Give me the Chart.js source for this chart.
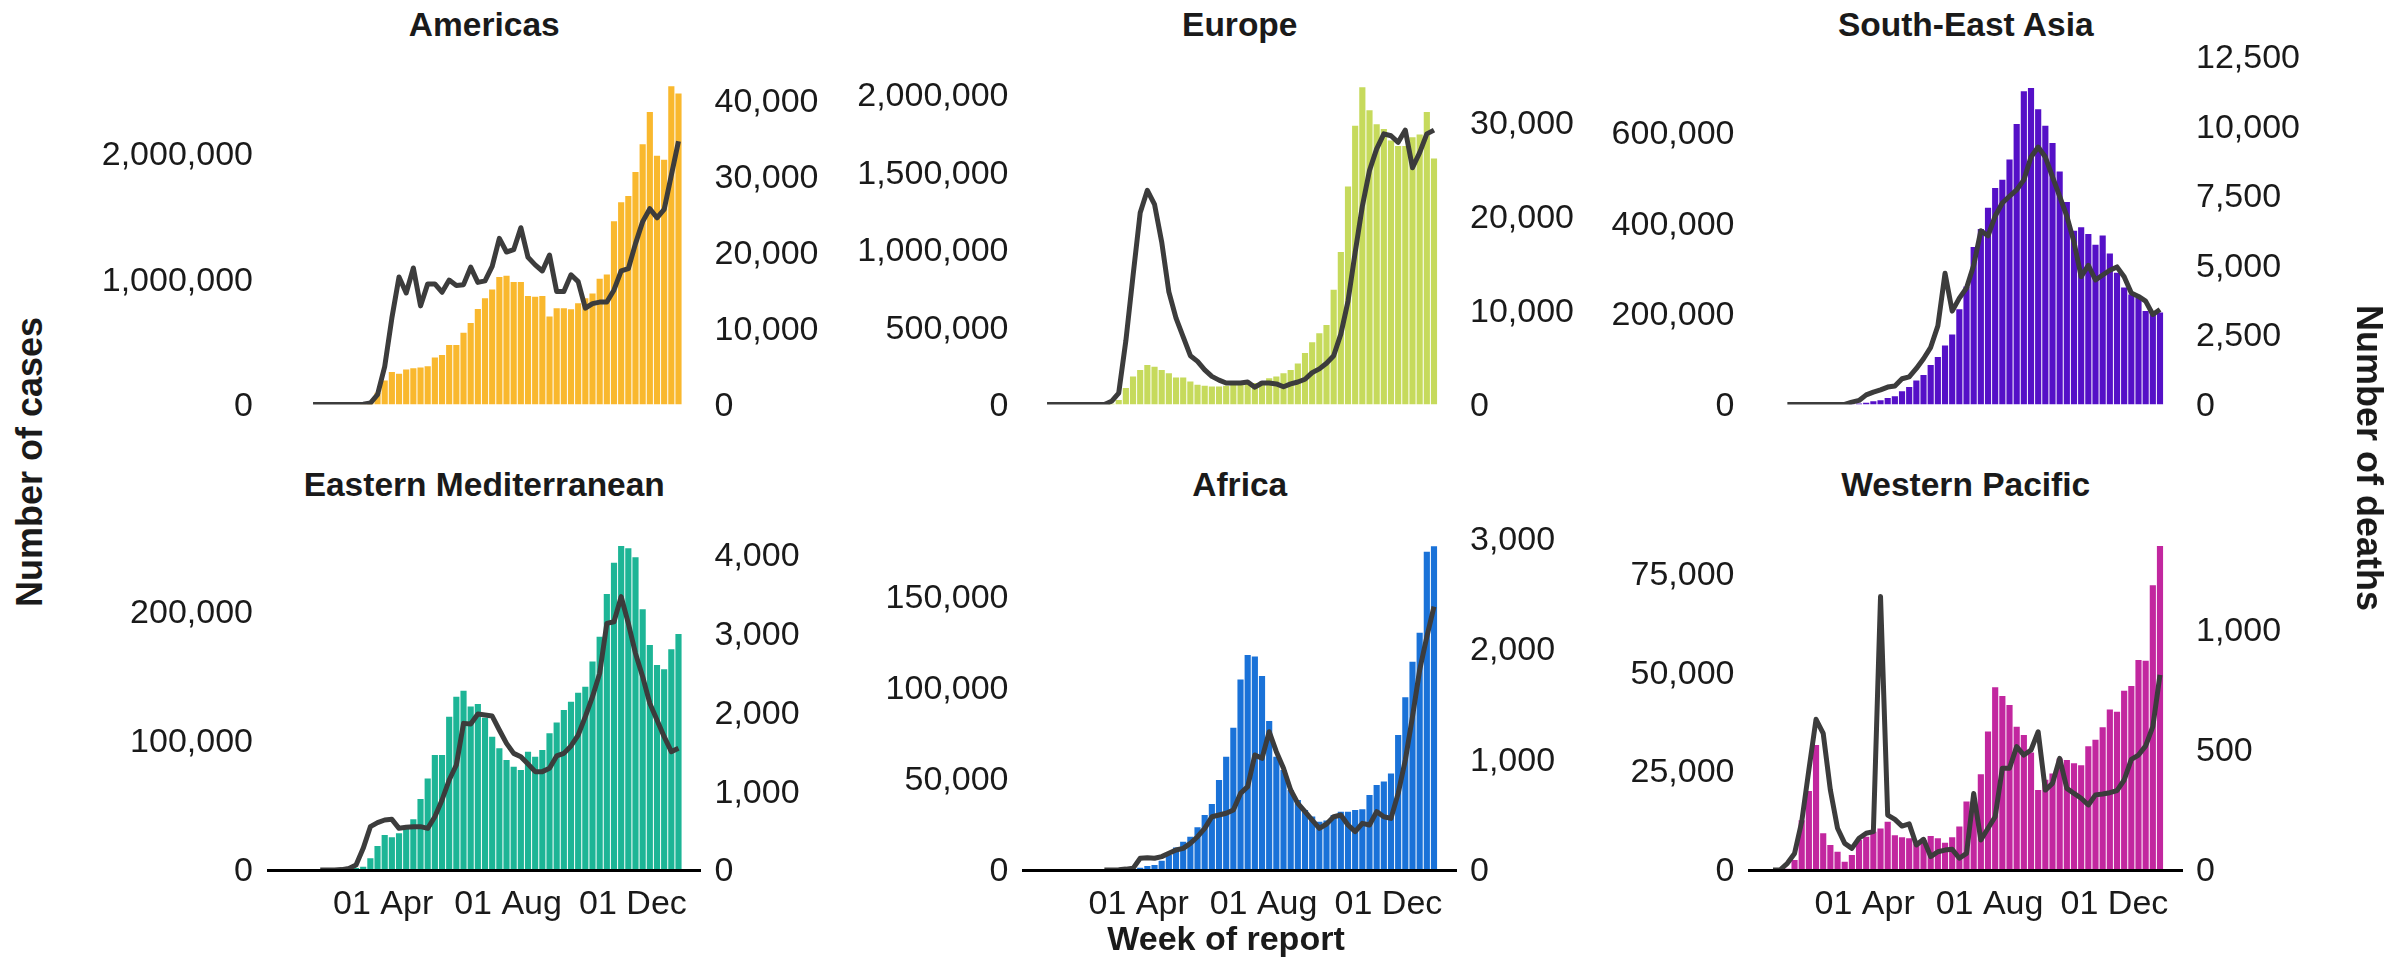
<!DOCTYPE html>
<html>
<head>
<meta charset="utf-8">
<script src="https://cdn.jsdelivr.net/npm/chart.js@4.4.1/dist/chart.umd.min.js"></script>
<style>
  html, body { margin: 0; padding: 0; background: #ffffff; }
  body {
    width: 2405px; height: 960px; position: relative; overflow: hidden;
    font-family: "Liberation Sans", Arial, Helvetica, sans-serif; color: #1a1a1a;
  }
  .title {
    position: absolute; font-weight: bold; font-size: 33.5px; line-height: 1;
    white-space: nowrap; transform: translate(-50%, -50%);
  }
  .axis-title {
    position: absolute; font-weight: bold; font-size: 36px; line-height: 1;
    white-space: nowrap;
  }
  canvas { position: absolute; }
</style>
</head>
<body>
<script>
// Weekly reporting periods (Monday of each week)
const weekStarts = [
  '2019-12-30','2020-01-06','2020-01-13','2020-01-20','2020-01-27','2020-02-03','2020-02-10',
  '2020-02-17','2020-02-24','2020-03-02','2020-03-09','2020-03-16','2020-03-23','2020-03-30',
  '2020-04-06','2020-04-13','2020-04-20','2020-04-27','2020-05-04','2020-05-11','2020-05-18',
  '2020-05-25','2020-06-01','2020-06-08','2020-06-15','2020-06-22','2020-06-29','2020-07-06',
  '2020-07-13','2020-07-20','2020-07-27','2020-08-03','2020-08-10','2020-08-17','2020-08-24',
  '2020-08-31','2020-09-07','2020-09-14','2020-09-21','2020-09-28','2020-10-05','2020-10-12',
  '2020-10-19','2020-10-26','2020-11-02','2020-11-09','2020-11-16','2020-11-23','2020-11-30',
  '2020-12-07','2020-12-14','2020-12-21','2020-12-28','2021-01-04','2021-01-11'
];

// Date axis ticks
const xTickDates  = ['2020-04-01', '2020-08-01', '2020-12-01'];
const xTickLabels = ['01 Apr', '01 Aug', '01 Dec'];

const regionNames = ['Americas', 'Europe', 'South-East Asia',
                     'Eastern Mediterranean', 'Africa', 'Western Pacific'];

// Weekly cases and deaths per region (null = before first report)
const americasCases = [null,null,null,5,3,6,3,2,20,300,3000,20000,95000,193000,259000,246000,280000,290000,295000,306000,376000,395000,476000,476000,573000,651000,763000,847000,918000,1017000,1027000,978000,978000,865000,860000,865000,703000,769000,769000,761000,808000,847000,886000,1004000,1038000,1461000,1613000,1663000,1854000,2076000,2332000,1984000,1953000,2539000,2481000];
const americasDeaths = [null,null,null,0,0,0,0,0,5,20,60,200,1300,5000,11400,16800,14700,18000,13000,15900,15900,14800,16400,15700,15800,18100,16100,16300,18200,21900,20100,20400,23300,19400,18400,17600,19700,14900,14900,17100,16200,12700,13300,13500,13500,15100,17600,17900,21200,24100,25800,24600,25700,30200,34700];

const europeCases = [0,0,0,0,5,10,30,100,1000,5000,30000,107000,181000,223000,255000,244000,223000,202000,175000,175000,149000,128000,122000,117000,117000,122000,139000,128000,139000,139000,149000,170000,181000,202000,223000,266000,333000,403000,460000,513000,742000,985000,1408000,1800000,2048000,1899000,1810000,1778000,1705000,1669000,1669000,1726000,1743000,1889000,1588000];
const europeDeaths = [0,0,0,0,0,0,0,0,10,350,1220,6800,13700,20400,22800,21300,17300,12000,9200,7200,5200,4600,3700,3000,2600,2300,2300,2300,2400,1850,2300,2300,2200,1900,2200,2400,2700,3400,3800,4400,5200,7500,11000,16200,21100,24900,27200,28800,28600,27900,29200,25200,26800,28800,29200];

const seAsiaCases = [null,null,0,1,2,5,8,5,10,30,300,1000,2500,4000,7600,9800,14800,18400,29300,38700,53100,65400,87100,105200,130500,154300,210000,260600,347400,387100,434100,477500,495500,540300,618400,690700,697900,650900,614800,576500,513600,446400,383500,390700,376300,352400,372700,332900,290900,258400,242500,235300,206400,206400,202800];
const seAsiaDeaths = [null,null,0,0,0,0,0,0,0,0,5,90,150,350,450,530,630,670,930,1000,1300,1650,2060,2830,4720,3360,3830,4190,5010,6250,6070,6780,7250,7490,7720,8080,8900,9260,8900,8190,7490,6780,5840,4600,5010,4480,4660,4830,4950,4600,4010,3890,3720,3240,3420];

const eastMedCases = [null,null,null,null,1,2,10,50,300,1500,2600,9000,18600,27100,25300,28400,32300,39200,54900,70900,89000,89000,118700,134200,138800,126500,128500,117900,103200,94200,85200,80000,77400,91600,87700,92900,105800,114100,123900,130300,137300,141900,161300,180600,213700,237900,250800,249000,242100,201800,174200,158700,155400,170800,182700];
const eastMedDeaths = [null,null,null,null,0,0,0,5,20,63,275,550,601,635,643,529,542,550,550,529,677,889,1143,1333,1862,1854,1981,1968,1955,1778,1608,1481,1439,1346,1249,1249,1291,1448,1481,1575,1714,1947,2201,2497,3132,3153,3471,3132,2751,2455,2116,1905,1693,1503,1545];

const africaCases = [null,null,null,null,null,null,null,null,0,5,20,200,700,1200,2200,2700,5100,8200,12400,15500,18300,23400,30200,36200,49400,62200,78100,104600,118000,117100,106500,81700,62200,54900,43900,38400,32900,29300,26500,27100,30200,32000,32000,32900,33300,41200,46600,48500,53000,74100,94800,114300,130200,174600,177700];
const africaDeaths = [null,null,null,null,null,null,null,null,0,0,3,8,15,106,111,106,121,151,181,196,241,301,377,482,497,513,543,693,754,1040,1010,1251,1070,920,724,603,528,452,377,416,482,497,407,347,422,407,528,482,467,693,995,1387,1809,2110,2382];

const westPacCases = [0,50,300,2500,12600,20000,31600,9300,6300,4600,2100,3800,7600,8400,9700,10500,12200,8800,8300,8000,6700,7600,8600,8000,6900,8300,11000,17300,17300,24200,35000,46200,44000,41700,36200,34100,29700,20200,22800,24400,28200,27800,27000,26500,31300,32900,36100,40600,40000,45300,46500,53100,52900,72000,81900];
const westPacDeaths = [0,1,28,69,201,417,628,569,333,174,111,90,132,153,160,1139,229,211,183,192,104,128,56,76,83,86,49,69,319,125,174,222,424,424,514,479,500,576,333,361,465,340,319,299,271,313,317,322,331,375,461,479,517,597,813];

// Axis tick values
const americasCaseTicks  = [0, 1000000, 2000000];
const americasDeathTicks = [0, 10000, 20000, 30000, 40000];
const europeCaseTicks    = [0, 500000, 1000000, 1500000, 2000000];
const europeDeathTicks   = [0, 10000, 20000, 30000];
const seAsiaCaseTicks    = [0, 200000, 400000, 600000];
const seAsiaDeathTicks   = [0, 2500, 5000, 7500, 10000, 12500];
const eastMedCaseTicks   = [0, 100000, 200000];
const eastMedDeathTicks  = [0, 1000, 2000, 3000, 4000];
const africaCaseTicks    = [0, 50000, 100000, 150000];
const africaDeathTicks   = [0, 1000, 2000, 3000];
const westPacCaseTicks   = [0, 25000, 50000, 75000];
const westPacDeathTicks  = [0, 500, 1000];

// ---- drawing ----
const FONT = '"Liberation Sans", Arial, Helvetica, sans-serif';
const INK = '#1a1a1a';
const LINE_COLOR = '#3c3c3c';
const DAY0 = Date.parse('2020-01-01');
const dayOf = iso => (Date.parse(iso) - DAY0) / 864e5;
const X_MIN = -21.5, X_MAX = 401;
const PLOT_W = 432.5;

const cols = [
  { plotLeft: 268,    canvasLeft: 68 },
  { plotLeft: 1023.5, canvasLeft: 823 },
  { plotLeft: 1749.5, canvasLeft: 1549 }
];
const CANVAS_W = 803;
const rows = [
  { canvasTop: 0,   canvasH: 440, areaTop: 47,  areaBottom: 410.5, showX: false, titleY: 24.5 },
  { canvasTop: 460, canvasH: 500, areaTop: 515, areaBottom: 870,   showX: true,  titleY: 485 }
];

const panels = [
  { cases: americasCases, deaths: americasDeaths, caseTicks: americasCaseTicks, deathTicks: americasDeathTicks,
    color: '#F9B82E', casesMax: 2851000, deathsMax: 47100 },
  { cases: europeCases, deaths: europeDeaths, caseTicks: europeCaseTicks, deathTicks: europeDeathTicks,
    color: '#C6DA5C', casesMax: 2308000, deathsMax: 38040 },
  { cases: seAsiaCases, deaths: seAsiaDeaths, caseTicks: seAsiaCaseTicks, deathTicks: seAsiaDeathTicks,
    color: '#5510C7', casesMax: 788300, deathsMax: 12858 },
  { cases: eastMedCases, deaths: eastMedDeaths, caseTicks: eastMedCaseTicks, deathTicks: eastMedDeathTicks,
    color: '#1DB596', casesMax: 274800, deathsMax: 4508 },
  { cases: africaCases, deaths: africaDeaths, caseTicks: africaCaseTicks, deathTicks: africaDeathTicks,
    color: '#1A72D8', casesMax: 194800, deathsMax: 3211 },
  { cases: westPacCases, deaths: westPacDeaths, caseTicks: westPacCaseTicks, deathTicks: westPacDeathTicks,
    color: '#C2279F', casesMax: 89750, deathsMax: 1479 }
];

const fmt = v => Number(v).toLocaleString('en-US');
const weekMid = weekStarts.map(w => dayOf(w) + 3.5);

function addText(cls, text, left, top, extra) {
  const d = document.createElement('div');
  d.className = cls;
  d.textContent = text;
  d.style.left = left + 'px';
  d.style.top = top + 'px';
  if (extra) Object.assign(d.style, extra);
  document.body.appendChild(d);
  return d;
}

// keep a scale pinned to its configured range
const pinRange = (s, lo, hi) => { s.min = lo; s.max = hi; };

panels.forEach((p, i) => {
  const col = cols[i % 3];
  const row = rows[Math.floor(i / 3)];
  const leftW = col.plotLeft - col.canvasLeft;
  const rightW = CANVAS_W - leftW - PLOT_W;

  addText('title', regionNames[i], col.plotLeft + PLOT_W / 2, row.titleY);

  const cv = document.createElement('canvas');
  cv.width = CANVAS_W; cv.height = row.canvasH;
  cv.style.left = col.canvasLeft + 'px';
  cv.style.top = row.canvasTop + 'px';
  cv.style.width = CANVAS_W + 'px';
  cv.style.height = row.canvasH + 'px';
  document.body.appendChild(cv);

  const xAxisH = row.canvasTop + row.canvasH - row.areaBottom;
  const tickFont = { family: FONT, size: 34 };

  new Chart(cv.getContext('2d'), {
    type: 'bar',
    data: {
      datasets: [
        {
          type: 'line',
          data: weekMid.map((x, k) => ({ x, y: p.deaths[k] })),
          xAxisID: 'x', yAxisID: 'yDeaths',
          borderColor: LINE_COLOR, borderWidth: 5,
          borderJoinStyle: 'round', borderCapStyle: 'butt',
          pointRadius: 0, tension: 0, spanGaps: false, order: 0
        },
        {
          type: 'bar',
          data: weekMid.map((x, k) => ({ x, y: p.cases[k] })),
          xAxisID: 'x', yAxisID: 'yCases',
          backgroundColor: p.color, borderWidth: 0,
          categoryPercentage: 1, barPercentage: 0.86, order: 1
        }
      ]
    },
    options: {
      responsive: false, animation: false, devicePixelRatio: 1,
      events: [],
      layout: { padding: { left: 0, right: 0, top: row.areaTop - row.canvasTop,
                           bottom: row.showX ? 0 : xAxisH } },
      plugins: { legend: { display: false }, tooltip: { enabled: false }, title: { display: false } },
      scales: {
        x: {
          type: 'linear', min: X_MIN, max: X_MAX, offset: false, bounds: 'data',
          display: row.showX,
          grid: { display: false, drawTicks: false, offset: false },
          border: { display: true, color: '#000000', width: 3, z: 1 },
          ticks: { font: tickFont, color: INK, padding: 14, autoSkip: false, maxRotation: 0,
                   callback: (v, idx) => xTickLabels[idx] },
          afterDataLimits: s => pinRange(s, X_MIN, X_MAX),
          afterBuildTicks: s => {
            s.ticks = xTickDates.map(d => ({ value: dayOf(d) }));
            pinRange(s, X_MIN, X_MAX);
          },
          afterFit: s => { if (row.showX) s.height = xAxisH; }
        },
        yCases: {
          type: 'linear', position: 'left', min: 0, max: p.casesMax,
          grid: { display: false, drawTicks: false }, border: { display: false },
          ticks: { font: tickFont, color: INK, padding: 15, labelOffset: 2, autoSkip: false,
                   callback: v => fmt(v) },
          afterBuildTicks: s => { s.ticks = p.caseTicks.map(v => ({ value: v })); pinRange(s, 0, p.casesMax); },
          afterFit: s => { s.width = leftW; }
        },
        yDeaths: {
          type: 'linear', position: 'right', min: 0, max: p.deathsMax,
          grid: { display: false, drawTicks: false }, border: { display: false },
          ticks: { font: tickFont, color: INK, padding: 14, labelOffset: 2, autoSkip: false,
                   callback: v => fmt(v) },
          afterBuildTicks: s => { s.ticks = p.deathTicks.map(v => ({ value: v })); pinRange(s, 0, p.deathsMax); },
          afterFit: s => { s.width = rightW; }
        }
      }
    }
  });
});

// Shared axis titles
addText('axis-title', 'Number of cases', 30, 462,
        { transform: 'translate(-50%, -50%) rotate(-90deg)' });
addText('axis-title', 'Number of deaths', 2369, 458,
        { transform: 'translate(-50%, -50%) rotate(90deg)' });
addText('title', 'Week of report', 1226, 938, { fontSize: '34px' });
</script>
</body>
</html>
